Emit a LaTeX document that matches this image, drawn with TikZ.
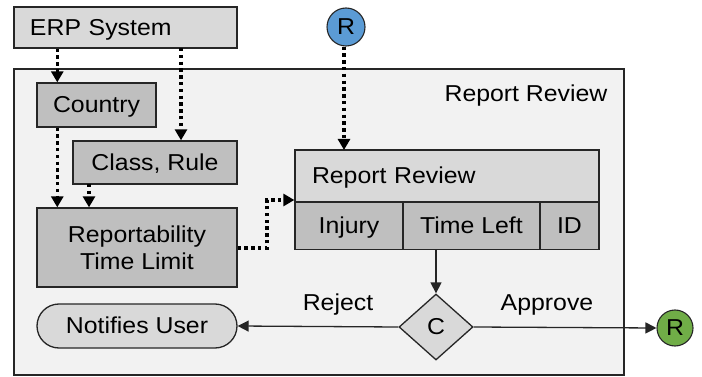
\documentclass[tikz,border=0pt]{standalone}
\usepackage{fontspec}
\setmainfont{Liberation Sans}[FakeStretch=1.08]
\usetikzlibrary{arrows.meta,shapes.geometric}
\definecolor{panel}{HTML}{F2F2F2}
\definecolor{lightbox}{HTML}{D9D9D9}
\definecolor{darkbox}{HTML}{BFBFBF}
\definecolor{edge}{HTML}{262626}
\definecolor{bluedot}{HTML}{5B9BD5}
\definecolor{greendot}{HTML}{70AD47}
\tikzset{
  every node/.style={font=\fontsize{23}{28}\selectfont, text=black},
  oneline/.style={text height=16.5pt, text depth=1pt},
  box/.style={draw=edge, line width=1.3pt, rectangle, inner sep=0pt},
  lightfill/.style={box, fill=lightbox},
  darkfill/.style={box, fill=darkbox},
  endpoint/.style={circle, draw=edge, line width=1.1pt, minimum size=38pt, inner sep=0pt, oneline},
  feed/.style={line width=3.5pt, dash pattern=on 3.4pt off 3.4pt,
    -{Triangle[width=12pt,length=11pt]}},
  flow/.style={line width=1.3pt, draw=edge, -{Triangle[width=11pt,length=11pt]}},
}
\begin{document}
\begin{tikzpicture}[x=1pt,y=-1pt]
\useasboundingbox (0,0) rectangle (702,377);

% swimlane panel
\node[box, fill=panel, minimum width=610pt, minimum height=306pt] (lane) at (319,222) {};
\node[anchor=east, oneline] (lanetitle) at (611,94) {Report Review};

% data sources and fields
\node[lightfill, oneline, minimum width=223pt, minimum height=41pt, text width=191pt,
      inner xsep=16pt, align=left] (erp) at (125.5,27.5) {ERP System};
\node[darkfill, oneline, minimum width=119pt, minimum height=44pt] (country) at (96.5,105) {Country};
\node[darkfill, oneline, minimum width=164pt, minimum height=43pt] (classrule) at (155,162.5) {Class, Rule};
\node[darkfill, minimum width=200pt, minimum height=79pt, align=center] (limit) at (137,247.5)
  {Reportability\\[-1pt]Time Limit};
\node[lightfill, oneline, minimum width=200pt, minimum height=44pt, rounded corners=22pt] (notify) at (137,326) {Notifies User};

% review record
\node[lightfill, oneline, minimum width=304pt, minimum height=52pt, text width=270pt,
      inner xsep=17pt, align=left] (review) at (447,176) {Report Review};
\node[darkfill, oneline, minimum width=108pt, minimum height=47pt] (injury) at (349,226) {Injury};
\node[darkfill, oneline, minimum width=137pt, minimum height=47pt] (timeleft) at (471.5,226) {Time Left};
\node[darkfill, oneline, minimum width=59pt, minimum height=47pt] (ident) at (569.5,226) {ID};

% decision and connectors to other lanes
\node[lightfill, diamond, oneline, minimum width=74pt, minimum height=66pt] (decide) at (436,327) {C};
\node[endpoint, fill=bluedot] (rin) at (346,27) {R};
\node[endpoint, fill=greendot, minimum size=36pt] (rout) at (675,328) {R};

% data feeds
\draw[feed] (erp.south -| country.150) coordinate (f1) -- (f1 |- country.north);
\draw[feed] (181,48) coordinate (f2) -- (f2 |- classrule.north);
\draw[feed] (country.south -| f1) -- (f1 |- limit.north);
\draw[feed] (89,184) coordinate (f3) -- (f3 |- limit.north);
\draw[feed] (rin.south -| 344,0) -- (344,150);
\draw[feed] (limit.east |- 0,248) -- (267,248) -- (267,200) -- (review.west |- 0,200);

% control flow
\draw[flow] (timeleft.south -| decide.north) -- (decide.north);
\draw[flow] (decide.west) -- (notify.east);
\draw[flow] (decide.east) -- (rout.west);
\node[oneline] (reject) at (338,303) {Reject};
\node[oneline] (approve) at (547,303) {Approve};
\end{tikzpicture}
\end{document}
